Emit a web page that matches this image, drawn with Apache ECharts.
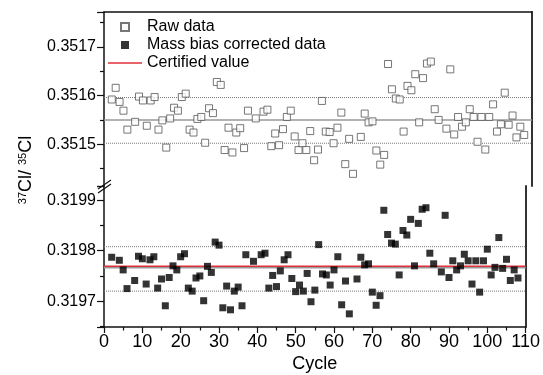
<!DOCTYPE html>
<html>
<head>
<meta charset="utf-8">
<script src="https://cdn.jsdelivr.net/npm/echarts@6/dist/echarts.min.js"></script>
<style>
  html, body { margin: 0; padding: 0; background: #fff; }
  #chart { width: 543px; height: 375px; }
</style>
</head>
<body>
<div id="chart"></div>
<script>
// raw ratios (open squares, upper panel)
var rawCycles = [2,3,4,5,6,8,9,10,11,12,13,14,15,16,17,18,19,20,21,22,23,24,25,26,27,28,29,30,31,32,33,34,35,36,37,39,41,42,43,44,45,46,47,48,49,50,51,52,53,54,55,56,57,58,59,60,61,62,63,64,66,67,68,69,70,71,72,73,74,75,76,77,78,79,80,81,82,83,84,85,86,88,89,90,91,92,93,94,95,96,97,98,99,100,101,102,103,104,105,106,107,108];
var rawValues = [0.351592,0.351616,0.351587,0.351569,0.351530,0.351546,0.351598,0.351590,0.351538,0.351590,0.351597,0.351530,0.351549,0.351493,0.351553,0.351575,0.351569,0.351597,0.351604,0.351530,0.351524,0.351552,0.351556,0.351503,0.351574,0.351564,0.351628,0.351622,0.351488,0.351534,0.351483,0.351524,0.351533,0.351492,0.351569,0.351553,0.351567,0.351571,0.351496,0.351522,0.351498,0.351531,0.351556,0.351569,0.351516,0.351488,0.351502,0.351488,0.351527,0.351467,0.351489,0.351589,0.351526,0.351525,0.351502,0.351534,0.351565,0.351459,0.351511,0.351439,0.351515,0.351563,0.351545,0.351547,0.351487,0.351458,0.351478,0.351665,0.351613,0.351594,0.351592,0.351526,0.351620,0.351611,0.351644,0.351545,0.351636,0.351666,0.351670,0.351572,0.351550,0.351532,0.351654,0.351520,0.351556,0.351536,0.351545,0.351572,0.351556,0.351505,0.351556,0.351489,0.351556,0.351582,0.351526,0.351541,0.351606,0.351540,0.351559,0.351514,0.351536,0.351519];

// mass bias corrected ratios (filled squares, lower panel)
var corrCycles = [2,4,5,6,8,9,10,11,12,13,14,15,16,17,18,19,20,21,22,23,24,25,26,27,28,29,30,31,32,33,34,35,36,37,39,41,42,43,44,45,46,47,48,49,50,51,52,53,54,55,56,57,58,59,60,61,62,63,64,66,67,68,69,70,71,72,73,74,75,76,77,78,79,80,81,82,83,84,85,86,88,89,90,91,92,93,94,95,96,97,98,99,100,101,102,103,104,105,106,107,108];
var corrValues = [0.319787,0.319781,0.319762,0.319725,0.319741,0.319789,0.319784,0.319734,0.319782,0.319788,0.319726,0.319744,0.319691,0.319747,0.319770,0.319762,0.319788,0.319794,0.319726,0.319720,0.319746,0.319750,0.319701,0.319769,0.319757,0.319817,0.319811,0.319687,0.319730,0.319683,0.319720,0.319728,0.319691,0.319792,0.319779,0.319792,0.319795,0.319726,0.319751,0.319729,0.319760,0.319782,0.319792,0.319745,0.319719,0.319732,0.319720,0.319755,0.319699,0.319722,0.319812,0.319754,0.319752,0.319732,0.319762,0.319788,0.319693,0.319740,0.319675,0.319744,0.319787,0.319772,0.319774,0.319718,0.319692,0.319711,0.319880,0.319832,0.319815,0.319813,0.319752,0.319840,0.319831,0.319862,0.319770,0.319854,0.319882,0.319885,0.319795,0.319774,0.319758,0.319870,0.319747,0.319780,0.319762,0.319770,0.319793,0.319780,0.319734,0.319780,0.319718,0.319780,0.319803,0.319752,0.319767,0.319826,0.319765,0.319783,0.319741,0.319762,0.319746];

// mean +2SD, mean, mean -2SD, and the certified value
var rawLines = [0.351596, 0.351550, 0.351502];
var corrLines = [0.319808, 0.319766, 0.319720];
var certifiedValue = 0.319769;

// axis ranges of the two halves of the broken axis
var upperRange = [0.351414, 0.351772];
var lowerRange = [0.319649, 0.319928];
var cycleRange = [0, 110];

function zip(xs, ys) {
  return xs.map(function (x, i) { return [x, ys[i]]; });
}

// horizontal reference line drawn as a two point line series
function hLine(name, xi, yi, value, color, width, type) {
  return {
    name: name,
    type: "line",
    xAxisIndex: xi,
    yAxisIndex: yi,
    symbol: "none",
    showSymbol: false,
    silent: true,
    lineStyle: { color: color, width: width, type: type },
    itemStyle: { color: color },
    data: [[cycleRange[0], value], [cycleRange[1], value]],
    z: 1
  };
}

var axisColor = "#111";
var font = "Liberation Sans, Arial, sans-serif";
var squareIcon = "path://M0 0H10V10H0Z";
var lineIcon = "path://M0 0H34V1.6H0Z";

function valueAxis(grid, range) {
  return {
    type: "value",
    gridIndex: grid,
    min: range[0],
    max: range[1],
    minInterval: 0.0001,
    maxInterval: 0.0001,
    axisLine: { show: true, lineStyle: { color: axisColor, width: 1.5 } },
    axisTick: { show: true, inside: false, length: 7, lineStyle: { color: axisColor, width: 1.2 } },
    minorTick: { show: true, splitNumber: 2, length: 4, lineStyle: { color: axisColor, width: 1.2 } },
    axisLabel: {
      show: true, margin: 8, color: "#000", fontSize: 16, fontFamily: font,
      showMinLabel: false, showMaxLabel: false
    },
    splitLine: { show: false }
  };
}

function rightAxis(grid, range) {
  return {
    type: "value",
    gridIndex: grid,
    position: "right",
    min: range[0],
    max: range[1],
    axisLine: { show: true, lineStyle: { color: "#333", width: 2 } },
    axisTick: { show: false },
    axisLabel: { show: false },
    splitLine: { show: false }
  };
}

var chart = echarts.init(document.getElementById("chart"), null, { renderer: "canvas" });

var option = {
  animation: false,
  backgroundColor: "#fff",
  grid: [
    { left: 104, right: 11, top: 12, height: 174 },
    { left: 104, right: 11, top: 186, height: 141 }
  ],
  legend: {
    orient: "vertical",
    left: 103,
    top: 14,
    itemWidth: 34,
    itemHeight: 8,
    itemGap: 2,
    textStyle: { fontSize: 16, color: "#000", fontFamily: font },
    data: [
      { name: "Raw data", icon: squareIcon },
      { name: "Mass bias corrected data", icon: squareIcon },
      { name: "Certified value", icon: lineIcon }
    ]
  },
  xAxis: [
    {
      type: "value", gridIndex: 0, position: "top",
      min: cycleRange[0], max: cycleRange[1],
      axisLine: { show: true, lineStyle: { color: axisColor, width: 1.5 } },
      axisTick: { show: false }, axisLabel: { show: false }, splitLine: { show: false }
    },
    {
      type: "value", gridIndex: 1, position: "bottom",
      min: cycleRange[0], max: cycleRange[1], interval: 10,
      name: "Cycle", nameLocation: "middle", nameGap: 28,
      nameTextStyle: { fontSize: 18, color: "#000", fontFamily: font },
      axisLine: { show: true, lineStyle: { color: axisColor, width: 1.5 } },
      axisTick: { show: true, inside: false, length: 6, lineStyle: { color: axisColor, width: 1.2 } },
      minorTick: { show: true, splitNumber: 2, length: 3.5, lineStyle: { color: axisColor, width: 1.2 } },
      axisLabel: { margin: 6, fontSize: 18, color: "#000", fontFamily: font },
      splitLine: { show: false }
    }
  ],
  yAxis: [
    valueAxis(0, upperRange),
    rightAxis(0, upperRange),
    valueAxis(1, lowerRange),
    rightAxis(1, lowerRange)
  ],
  series: [
    hLine("raw+2sd", 0, 0, rawLines[0], "#777", 1, "dotted"),
    hLine("raw mean", 0, 0, rawLines[1], "#999", 1.5, "solid"),
    hLine("raw-2sd", 0, 0, rawLines[2], "#777", 1, "dotted"),
    hLine("corr+2sd", 1, 2, corrLines[0], "#777", 1, "dotted"),
    hLine("corr mean", 1, 2, corrLines[1], "#999", 1.5, "solid"),
    hLine("corr-2sd", 1, 2, corrLines[2], "#777", 1, "dotted"),
    {
      name: "Certified value",
      type: "line",
      xAxisIndex: 1,
      yAxisIndex: 2,
      symbol: "none",
      showSymbol: false,
      lineStyle: { color: "#e0303a", width: 1.5 },
      itemStyle: { color: "#e0303a" },
      data: [[cycleRange[0], certifiedValue], [cycleRange[1], certifiedValue]],
      z: 2
    },
    {
      name: "Raw data",
      type: "scatter",
      xAxisIndex: 0,
      yAxisIndex: 0,
      symbol: "rect",
      symbolSize: 7,
      itemStyle: { color: "#fff", borderColor: "#555", borderWidth: 1 },
      data: zip(rawCycles, rawValues),
      z: 3
    },
    {
      name: "Mass bias corrected data",
      type: "scatter",
      xAxisIndex: 1,
      yAxisIndex: 2,
      symbol: "rect",
      symbolSize: 7,
      itemStyle: { color: "#000" },
      data: zip(corrCycles, corrValues),
      z: 3
    }
  ],
  graphic: [
    // axis break marks on the left axis
    { type: "line", shape: { x1: 98, y1: 189, x2: 111, y2: 180 }, style: { stroke: "#111", lineWidth: 1.2 } },
    { type: "line", shape: { x1: 98, y1: 193, x2: 111, y2: 184 }, style: { stroke: "#111", lineWidth: 1.2 } },
    // y axis title 37Cl/ 35Cl
    {
      type: "text",
      x: 26,
      y: 170,
      rotation: Math.PI / 2,
      style: {
        text: "{sup|37}{main|Cl/ }{sup|35}{main|Cl}",
        align: "center",
        verticalAlign: "middle",
        fill: "#000",
        rich: {
          main: { fontSize: 18, fontFamily: font, fill: "#000", verticalAlign: "bottom" },
          sup: { fontSize: 11, fontFamily: font, fill: "#000", verticalAlign: "top", padding: [0, 0, 6, 0] }
        }
      }
    }
  ]
};

chart.setOption(option);
window.addEventListener("resize", function () { chart.resize(); }, false);
</script>
</body>
</html>
